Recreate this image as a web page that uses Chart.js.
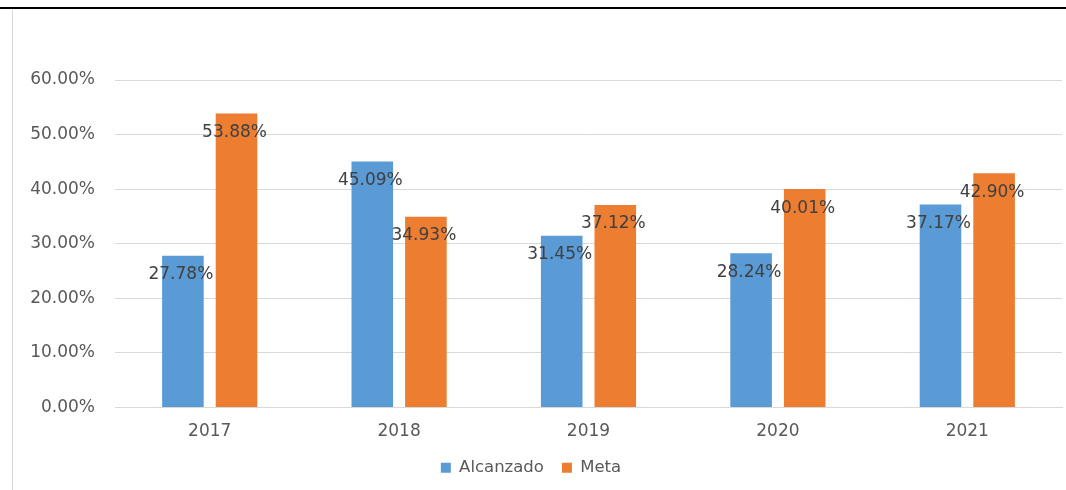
<!DOCTYPE html>
<html>
<head>
<meta charset="utf-8">
<script src="https://cdn.jsdelivr.net/npm/chart.js@4"></script>
<style>
  html, body { margin: 0; padding: 0; background: #fff; }
  #wrap { position: relative; width: 1066px; height: 490px; overflow: hidden; }
  #topline { position: absolute; left: 0; top: 7px; width: 1066px; height: 2px; background: #000; }
  #leftline { position: absolute; left: 12px; top: 9px; width: 1px; height: 481px; background: #d9d9d9; }
  #cv { position: absolute; left: 0; top: 0; }
</style>
</head>
<body>
<div id="wrap">
  <canvas id="cv" width="1066" height="490"></canvas>
  <div id="topline"></div>
  <div id="leftline"></div>
</div>
<script>
const categories = ['2017', '2018', '2019', '2020', '2021'];
const alcanzado = [27.78, 45.09, 31.45, 28.24, 37.17];
const meta = [53.88, 34.93, 37.12, 40.01, 42.90];
const seriesNames = ['Alcanzado', 'Meta'];
const yTicks = [0, 10, 20, 30, 40, 50, 60];

const FONT = "'DejaVu Sans', Verdana, sans-serif";

const dataLabels = {
  id: 'dataLabels',
  afterDatasetsDraw(chart) {
    const ctx = chart.ctx;
    ctx.save();
    ctx.font = '17px ' + FONT;
    ctx.fillStyle = '#404040';
    ctx.textAlign = 'center';
    ctx.textBaseline = 'middle';
    chart.data.datasets.forEach((ds, i) => {
      const meta = chart.getDatasetMeta(i);
      meta.data.forEach((bar, j) => {
        ctx.fillText(ds.data[j].toFixed(2) + '%', bar.x - 2, bar.y + 19);
      });
    });
    ctx.restore();
  }
};

new Chart(document.getElementById('cv'), {
  type: 'bar',
  data: {
    labels: categories,
    datasets: [
      { label: seriesNames[0], data: alcanzado, backgroundColor: '#5B9BD5', borderWidth: 0 },
      { label: seriesNames[1], data: meta, backgroundColor: '#ED7D31', borderWidth: 0 }
    ]
  },
  options: {
    responsive: false,
    animation: false,
    categoryPercentage: 0.566,
    barPercentage: 0.776,
    layout: { padding: { left: 0, right: 4, top: 80, bottom: 4 } },
    plugins: {
      legend: {
        position: 'bottom',
        labels: {
          boxWidth: 10, boxHeight: 10, padding: 18,
          color: '#595959',
          font: { family: FONT, size: 16.5 }
        }
      },
      tooltip: { enabled: false }
    },
    scales: {
      x: {
        grid: { display: false, drawTicks: false },
        border: { display: true, color: '#d9d9d9', width: 1 },
        ticks: { color: '#595959', font: { family: FONT, size: 17 }, padding: 14 },
        afterFit(scale) { scale.height = 34; }
      },
      y: {
        min: 0, max: 60,
        afterBuildTicks(scale) { scale.ticks = yTicks.map(v => ({ value: v })); },
        grid: { color: '#d9d9d9', drawTicks: false },
        border: { display: false },
        ticks: {
          color: '#595959', font: { family: FONT, size: 17 }, padding: 20,
          callback: v => v.toFixed(2) + '%'
        },
        afterFit(scale) { scale.width = 115; }
      }
    }
  },
  plugins: [dataLabels]
});
</script>
</body>
</html>
